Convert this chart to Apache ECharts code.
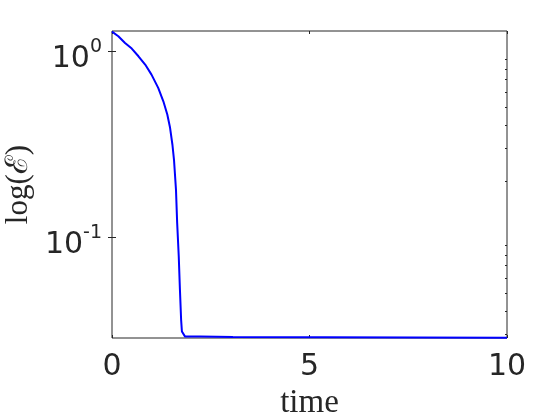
<!DOCTYPE html>
<html>
<head>
<meta charset="utf-8">
<script src="https://cdn.jsdelivr.net/npm/echarts@6/dist/echarts.min.js"></script>
<style>html,body{margin:0;padding:0;background:#fff}#c{width:560px;height:420px}</style>
</head>
<body>
<div id="c"></div>
<script>
var time = [0, 0.16, 0.33, 0.50, 0.67, 0.84, 1.0, 1.17, 1.30, 1.40, 1.47, 1.53, 1.57, 1.62, 1.65, 1.69, 1.72, 1.75, 1.77, 1.85, 2.23, 3.06, 3.1, 10];
var energy = [1.27, 1.20, 1.104, 1.03, 0.936, 0.845, 0.746, 0.633, 0.536, 0.455, 0.386, 0.313, 0.259, 0.179, 0.1186, 0.0784, 0.0519, 0.0358, 0.031, 0.0291, 0.0291, 0.0290, 0.0287, 0.0287];
var xTicks = [0, 5, 10];
var yMajor = [0.1, 1];
var yMinor = [0.03, 0.04, 0.05, 0.06, 0.07, 0.08, 0.09, 0.2, 0.3, 0.4, 0.5, 0.6, 0.7, 0.8, 0.9];
var yMin = 0.0286, yMax = 1.28;

var ink = '#262626';
var pts = time.map(function (t, i) { return [t, energy[i]]; });
var chart = echarts.init(document.getElementById('c'), null, {renderer: 'canvas'});
chart.setOption({
  animation: false,
  grid: {left: 112, right: 53, top: 31, bottom: 82, show: true, borderColor: ink, borderWidth: 1, backgroundColor: '#fff',
         containLabel: false, outerBoundsMode: 'none'},
  xAxis: [{
    type: 'value', min: 0, max: 10, interval: 5,
    axisLine: {show: false}, splitLine: {show: false},
    axisTick: {inside: true, length: 3, lineStyle: {color: ink}, customValues: xTicks},
    axisLabel: {color: ink, fontSize: 30, fontFamily: 'DejaVu Sans', margin: 14, customValues: xTicks},
    name: 'time', nameLocation: 'middle', nameGap: 41,
    nameTextStyle: {color: ink, fontSize: 33, fontFamily: 'Liberation Serif, DejaVu Serif, serif'}
  }, {
    type: 'value', position: 'top', min: 0, max: 10, interval: 5,
    axisLine: {show: false}, splitLine: {show: false},
    axisTick: {inside: true, length: 3, lineStyle: {color: ink}},
    axisLabel: {show: false}
  }],
  yAxis: [{
    type: 'log', logBase: 10, min: yMin, max: yMax,
    axisLine: {show: false}, splitLine: {show: false}, minorTick: {show: false},
    axisTick: {inside: true, length: 4, lineStyle: {color: ink}, customValues: yMajor},
    axisLabel: {
      customValues: yMajor, margin: 10, color: ink,
      formatter: function (v) { return '{b|10}{s|' + Math.round(Math.log10(v)) + '}'; },
      rich: {
        b: {fontSize: 30, lineHeight: 30, fontFamily: 'DejaVu Sans', color: ink, padding: [17, 0, 0, 0]},
        s: {fontSize: 19, lineHeight: 20, fontFamily: 'DejaVu Sans', color: ink, padding: [0, 0, 7, 0]}
      }
    },
    name: 'log(\u2130)', nameLocation: 'middle', nameGap: 74,
    nameTextStyle: {color: ink, fontSize: 31, fontFamily: 'Liberation Serif, DejaVu Serif, serif'}
  }, {
    type: 'log', logBase: 10, min: yMin, max: yMax, position: 'right',
    axisLine: {show: false}, splitLine: {show: false},
    axisTick: {inside: true, length: 4, lineStyle: {color: ink}, customValues: yMajor},
    axisLabel: {show: false}
  }, {
    type: 'log', logBase: 10, min: yMin, max: yMax, position: 'right',
    axisLine: {show: false}, splitLine: {show: false},
    axisTick: {inside: true, length: 2, lineStyle: {color: ink}, customValues: yMinor},
    axisLabel: {show: false}
  }],
  series: [{
    type: 'line', data: pts, xAxisIndex: 0, yAxisIndex: 0,
    showSymbol: false, smooth: false, clip: true,
    lineStyle: {color: '#0000ff', width: 2}
  }]
});
</script>
</body>
</html>
